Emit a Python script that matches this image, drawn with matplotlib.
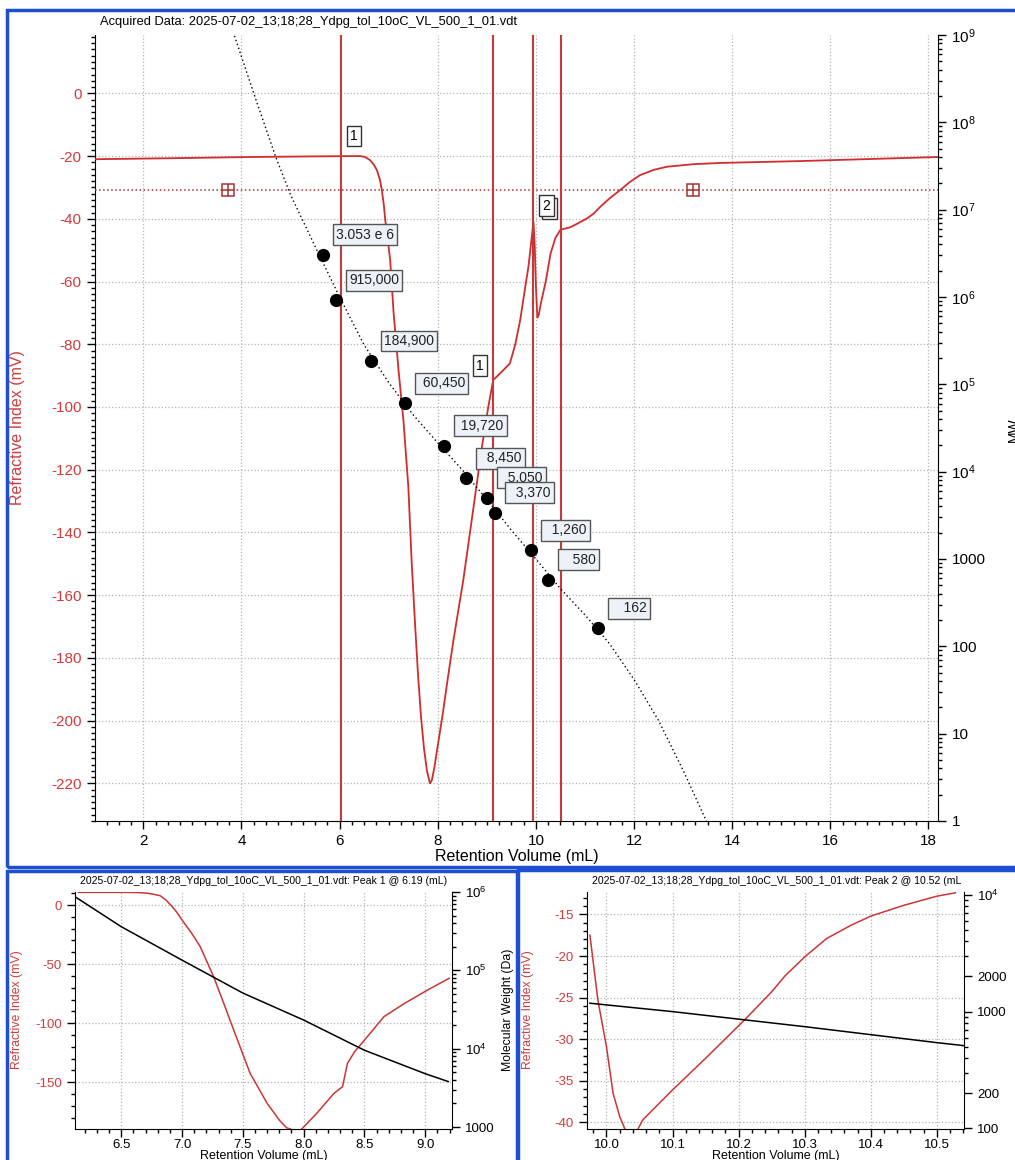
import numpy as np
import matplotlib
matplotlib.use('Agg')
import matplotlib.pyplot as plt
from matplotlib.ticker import MultipleLocator, FixedLocator, FuncFormatter, LogLocator, NullFormatter
from matplotlib.patches import Rectangle

plt.rcParams['font.family'] = ['Liberation Sans', 'DejaVu Sans']
plt.rcParams['mathtext.default'] = 'regular'
plt.rcParams['axes.unicode_minus'] = False

W, H = 1015, 1160
RED = '#d22c2c'
LINE_RED = '#c43a3a'
TICK_RED = '#d43a3a'
GRID = '#b4b4b4'
BLUE = '#1f4fd1'

# ---- main chromatogram (RI trace) ----
ri_vol = [1.02, 2.5, 4.17, 5.5, 6.30, 6.42, 6.52, 6.62, 6.70, 6.76, 6.82, 6.86, 6.90, 6.93,
          6.98, 7.03, 7.10, 7.20, 7.30, 7.40, 7.47, 7.54, 7.60, 7.66, 7.72, 7.78, 7.84, 7.88,
          7.93, 8.00, 8.10, 8.20, 8.32, 8.52, 8.73, 8.90, 9.03, 9.13, 9.27, 9.47, 9.58, 9.68,
          9.78, 9.85, 9.95, 9.975, 10.00, 10.03, 10.06, 10.10, 10.20, 10.30, 10.40, 10.50,
          10.70, 10.85, 11.04, 11.18, 11.31, 11.50, 11.72, 11.92, 12.12, 12.40, 12.67, 13.20,
          13.75, 15.38, 18.2]
ri_mv = [-21.0, -20.7, -20.3, -20.1, -20.0, -20.0, -20.3, -21.3, -22.8, -24.5, -27.5, -30.8,
         -35.5, -40.4, -46.5, -53.1, -70.0, -88.2, -104.2, -125.4, -150.0, -170.0, -186.0,
         -199.0, -209.0, -216.0, -220.0, -219.0, -215.0, -208.0, -198.0, -187.0, -174.3,
         -155.2, -131.8, -112.7, -99.9, -91.4, -89.3, -86.1, -80.0, -72.3, -62.0, -55.0,
         -41.0, -48.2, -61.6, -71.5, -70.5, -67.0, -60.0, -51.0, -46.0, -43.5, -42.7, -41.5,
         -39.9, -38.3, -36.2, -33.5, -30.8, -28.2, -26.1, -24.4, -23.4, -22.6, -22.2, -21.6,
         -20.3]

baseline_mv = -30.8
baseline_marks = [3.73, 13.20]
peak_lines = [6.03, 9.13, 9.95, 10.52]

# calibration standards
cal_vol = [5.657, 5.922, 6.635, 7.340, 8.129, 8.572, 9.000, 9.169, 9.903, 10.243, 11.274]
cal_mw = [3.053e6, 915000, 184900, 60450, 19720, 8450, 5050, 3370, 1260, 580, 162]
cal_text = ['3.053 e 6', '915,000', '184,900', ' 60,450', ' 19,720', '  8,450', '  5,050',
            '  3,370', '  1,260', '   580', '   162']

# calibration curve (dotted), log10 MW
curve_vol = [3.80, 3.87, 4.30, 4.70, 5.00, 5.50, 6.00, 6.50, 7.00, 7.50, 8.00, 8.50, 9.00,
             9.50, 10.00, 10.50, 11.00, 11.50, 12.00, 12.50, 13.00, 13.45, 13.52]
curve_logmw = [9.08, 8.97, 8.25, 7.60, 7.17, 6.58, 6.00, 5.45, 5.02, 4.65, 4.33, 4.02, 3.68,
               3.33, 3.00, 2.66, 2.36, 2.03, 1.62, 1.15, 0.58, 0.03, -0.06]

# ---- peak 1 slice ----
p1_vol = [6.148, 6.40, 6.50, 6.60, 6.66, 6.72, 6.77, 6.82, 6.87, 6.92, 6.96, 7.00, 7.08, 7.15,
          7.26, 7.34, 7.425, 7.56, 7.70, 7.80, 7.86, 7.92, 7.975, 8.11, 8.25, 8.32, 8.36, 8.42,
          8.49, 8.66, 8.83, 9.02, 9.196]
p1_mv = [10.7, 10.7, 10.7, 10.6, 10.4, 9.9, 9.0, 7.9, 4.0, -1.5, -6.5, -12.7, -24.0, -35.3,
         -60.7, -82.3, -105.8, -142.4, -167.8, -182.0, -188.5, -190.5, -190.5, -176.0, -159.3,
         -153.7, -134.0, -124.0, -115.6, -94.5, -83.2, -71.9, -62.0]
p1_mw_vol = [6.12, 6.5, 7.0, 7.5, 8.0, 8.5, 9.0, 9.19]
p1_mw = [871000, 361000, 135000, 51300, 23200, 9550, 4790, 3800]

# ---- peak 2 slice ----
p2_vol = [9.975, 9.987, 10.00, 10.01, 10.02, 10.03, 10.045, 10.055, 10.10, 10.15, 10.21, 10.25,
          10.27, 10.30, 10.333, 10.37, 10.40, 10.45, 10.50, 10.528]
p2_mv = [-17.5, -25.3, -30.9, -36.5, -39.3, -41.2, -41.2, -39.7, -36.1, -32.3, -27.6, -24.3,
         -22.4, -20.1, -17.9, -16.3, -15.2, -13.9, -12.8, -12.4]
p2_mw_vol = [9.975, 10.1, 10.3, 10.5, 10.545]
p2_mw = [1180, 1000, 743, 542, 508]

title_main = 'Acquired Data: 2025-07-02_13;18;28_Ydpg_tol_10oC_VL_500_1_01.vdt'
title_p1 = '2025-07-02_13;18;28_Ydpg_tol_10oC_VL_500_1_01.vdt: Peak 1 @ 6.19 (mL)'
title_p2 = '2025-07-02_13;18;28_Ydpg_tol_10oC_VL_500_1_01.vdt: Peak 2 @ 10.52 (mL'


def fx(px):
    return px / W


def fy(py):
    return 1 - py / H


def mw_fmt(v, pos):
    e = int(round(np.log10(v)))
    if abs(v - 10 ** e) < 1e-6 * v and e >= 4:
        return '$10^{%d}$' % e
    return '%d' % int(round(v))


def style_axes(ax, axr, size, xpad=3.5):
    for s in ['top', 'right']:
        ax.spines[s].set_visible(False)
    for s in ['top', 'left', 'bottom']:
        axr.spines[s].set_visible(False)
    ax.tick_params(which='both', direction='out', color='black', width=1, labelsize=size)
    ax.tick_params(which='major', length=6)
    ax.tick_params(which='minor', length=3)
    ax.tick_params(axis='x', pad=xpad)
    ax.tick_params(axis='y', labelcolor=TICK_RED)
    axr.tick_params(which='both', direction='out', color='black', width=1, labelsize=size)
    axr.tick_params(which='major', length=6)
    axr.tick_params(which='minor', length=3)
    ax.grid(True, which='major', linestyle=':', color=GRID, linewidth=0.9)


fig = plt.figure(figsize=(W / 100, H / 100), dpi=100)

# ================= main plot =================
ax = fig.add_axes([fx(95), fy(821), fx(938.3 - 95), (821 - 35) / H])
ax2 = ax.twinx()
ax.set_xlim(1.015, 18.2)
ax.set_ylim(-232, 18.6)
ax2.set_yscale('log')
ax2.set_ylim(1, 1e9)

ax.xaxis.set_major_locator(MultipleLocator(2))
ax.xaxis.set_minor_locator(MultipleLocator(0.25))
ax.yaxis.set_major_locator(MultipleLocator(20))
ax.yaxis.set_minor_locator(MultipleLocator(2))
ax2.yaxis.set_major_locator(FixedLocator([10.0 ** k for k in range(10)]))
ax2.yaxis.set_major_formatter(FuncFormatter(mw_fmt))
ax2.yaxis.set_minor_locator(LogLocator(base=10, subs=np.arange(2, 10), numticks=20))
ax2.yaxis.set_minor_formatter(NullFormatter())
style_axes(ax, ax2, 11)

ax.plot(ri_vol, ri_mv, color=RED, lw=1.3, zorder=3)
ax.axhline(baseline_mv, color='#a83232', lw=1.1, linestyle=':', zorder=3)
ax.plot(baseline_marks, [baseline_mv] * 2, 's', ms=8, mfc='white', mec='#a83232', mew=1.1, zorder=4)
ax.plot(baseline_marks, [baseline_mv] * 2, '+', ms=8, mec='#a83232', mew=1.1, zorder=4)
for v in peak_lines:
    ax.axvline(v, color=LINE_RED, lw=1.5, zorder=3)

box_kw = dict(boxstyle='square,pad=0.25', fc='white', ec='#333333', lw=1)
ax.text(6.29, -13.6, '1', fontsize=10, ha='center', va='center', bbox=box_kw, zorder=6)
ax.text(8.86, -86.9, '1', fontsize=10, ha='center', va='center', bbox=box_kw, zorder=6)
ax.annotate('2', (10.21, -35.8), xytext=(2.2, -2.2), textcoords='offset points', fontsize=10,
            ha='center', va='center', color='white', bbox=box_kw, zorder=5)
ax.text(10.21, -35.8, '2', fontsize=10, ha='center', va='center', bbox=box_kw, zorder=6)

ax2.plot(curve_vol, [10 ** v for v in curve_logmw], linestyle=(0, (1, 2)), color='black', lw=1, zorder=4)
ax2.plot(cal_vol, cal_mw, 'o', color='black', ms=8.5, zorder=5)
for v, m, lab in zip(cal_vol, cal_mw, cal_text):
    ax2.annotate(lab, (v, m), xytext=(9.5, 14.4), textcoords='offset points', ha='left', va='center',
                 fontsize=10, color='#222222',
                 bbox=dict(boxstyle='square,pad=0.25', fc='#edf2f9', ec='#555555', lw=1), zorder=6)

fig.text(fx(100), fy(22), title_main, fontsize=9.3, ha='left', va='center')
fig.text(fx(516.5), fy(857), 'Retention Volume (mL)', fontsize=11.5, ha='center', va='center')
fig.text(fx(18), fy(428), 'Refractive Index (mV)', fontsize=11.5, rotation=90, color=TICK_RED,
         ha='center', va='center')
fig.text(fx(1014), fy(430), 'MW', fontsize=10, rotation=90, ha='center', va='center')

# ================= peak 1 =================
a3 = fig.add_axes([fx(75), fy(1129), fx(452 - 75), 237 / H])
a4 = a3.twinx()
a3.set_xlim(6.12, 9.22)
a3.set_ylim(-189.5, 11)
a4.set_yscale('log')
a4.set_ylim(943, 1e6)
a3.xaxis.set_major_locator(MultipleLocator(0.5))
a3.xaxis.set_minor_locator(MultipleLocator(0.1))
a3.xaxis.set_major_formatter(FuncFormatter(lambda v, p: '%.1f' % v))
a3.yaxis.set_major_locator(MultipleLocator(50))
a3.yaxis.set_minor_locator(MultipleLocator(10))
a4.yaxis.set_major_locator(FixedLocator([1e3, 1e4, 1e5, 1e6]))
a4.yaxis.set_major_formatter(FuncFormatter(mw_fmt))
a4.yaxis.set_minor_locator(LogLocator(base=10, subs=np.arange(2, 10), numticks=20))
a4.yaxis.set_minor_formatter(NullFormatter())
style_axes(a3, a4, 9.5, xpad=1.5)
a3.plot(p1_vol, p1_mv, color='#cc3535', lw=1.1, zorder=3)
a4.plot(p1_mw_vol, p1_mw, color='black', lw=1.1, zorder=3)
fig.text(fx(263.5), fy(881), title_p1, fontsize=7.6, ha='center', va='center')
fig.text(fx(17), fy(1010), 'Refractive Index (mV)', fontsize=8.8, rotation=90, color=TICK_RED,
         ha='center', va='center')
fig.text(fx(508), fy(1010), 'Molecular Weight (Da)', fontsize=8.8, rotation=90, ha='center', va='center')
fig.text(fx(263.5), fy(1156), 'Retention Volume (mL)', fontsize=9, ha='center', va='center')

# ================= peak 2 =================
a5 = fig.add_axes([fx(587.3), fy(1129), fx(964 - 587.3), 237 / H])
a6 = a5.twinx()
a5.set_xlim(9.971, 10.541)
a5.set_ylim(-40.8, -12.3)
a6.set_yscale('log')
a6.set_ylim(98.6, 1.06e4)
a5.xaxis.set_major_locator(MultipleLocator(0.1))
a5.xaxis.set_minor_locator(MultipleLocator(0.02))
a5.xaxis.set_major_formatter(FuncFormatter(lambda v, p: '%.1f' % v))
a5.yaxis.set_major_locator(MultipleLocator(5))
a5.yaxis.set_minor_locator(MultipleLocator(1))
a6.yaxis.set_major_locator(FixedLocator([100, 200, 1000, 2000, 10000]))
a6.yaxis.set_major_formatter(FuncFormatter(mw_fmt))
a6.yaxis.set_minor_locator(LogLocator(base=10, subs=np.arange(2, 10), numticks=20))
a6.yaxis.set_minor_formatter(NullFormatter())
style_axes(a5, a6, 9.5, xpad=1.5)
a5.plot(p2_vol, p2_mv, color='#cc3535', lw=1.1, zorder=3)
a6.plot(p2_mw_vol, p2_mw, color='black', lw=1.1, zorder=3)
fig.text(fx(777), fy(881), title_p2, fontsize=7.6, ha='center', va='center')
fig.text(fx(528), fy(1010), 'Refractive Index (mV)', fontsize=8.8, rotation=90, color=TICK_RED,
         ha='center', va='center')
fig.text(fx(775.6), fy(1156), 'Retention Volume (mL)', fontsize=9, ha='center', va='center')

# ---- blue panel frames ----
for (x0, y0, x1, y1) in [(7, 10, 1030, 867), (7, 871, 517, 1175), (518, 870, 1030, 1175)]:
    fig.add_artist(Rectangle((fx(x0), fy(y1)), (x1 - x0) / W, (y1 - y0) / H, fill=False,
                             ec=BLUE, lw=2.5, transform=fig.transFigure))

fig.savefig('out.png', dpi=100)
